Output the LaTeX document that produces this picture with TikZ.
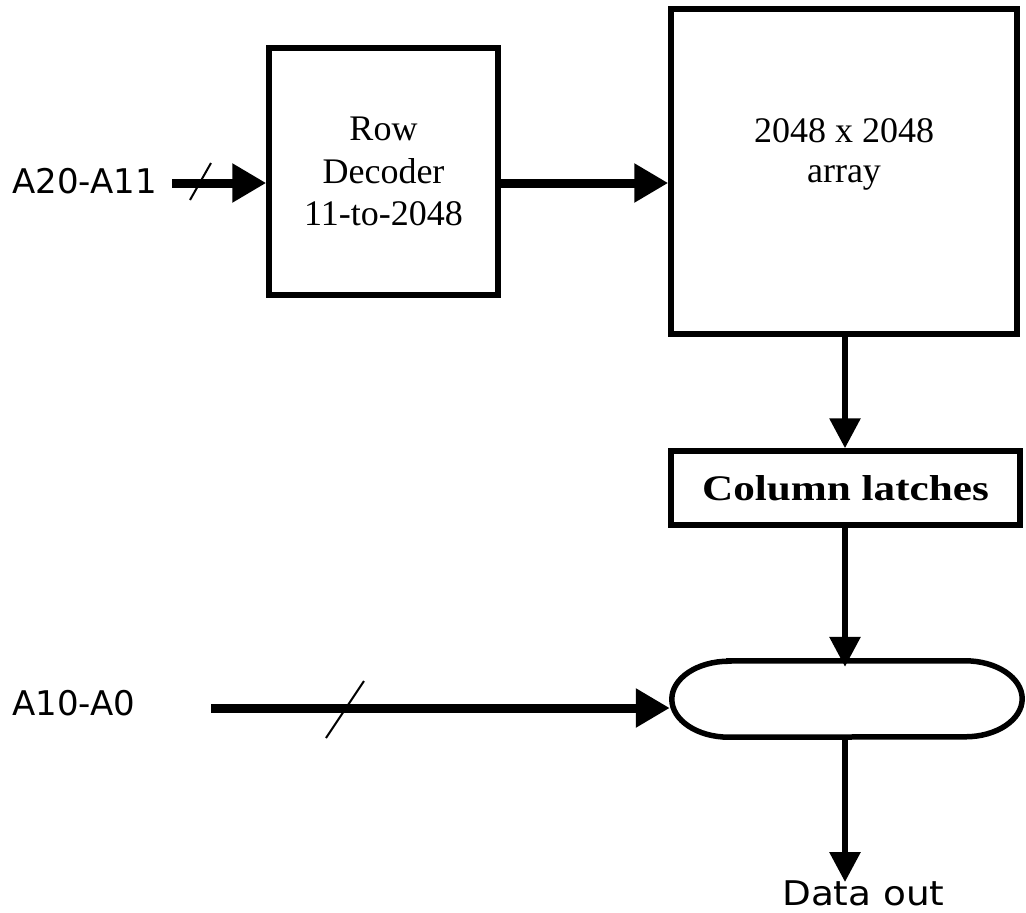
\documentclass[tikz,border=0pt]{standalone}
\usepackage{fontspec}
\setmainfont{Liberation Serif}
\newfontfamily\lblfont{DejaVu Sans}
\usetikzlibrary{arrows.meta,calc}
\begin{document}
\begin{tikzpicture}[x=1pt,y=1pt,
  blk/.style={draw,line width=5.5pt,inner sep=0pt,align=center},
  serif36/.style={font=\fontsize{36}{42.5}\selectfont},
  lbl/.style={font=\lblfont\fontsize{34}{40}\selectfont,inner sep=0pt},
  busarrow/.style={line width=9pt,-{Triangle[length=34pt,width=37pt]}},
  varrow/.style={line width=6pt,-{Triangle[length=30pt,width=30pt]}},
  slash/.style={line width=2pt}
]
\useasboundingbox (0,0) rectangle (1026,-913);

% blocks
\node[blk,serif36,minimum width=229pt,minimum height=247pt] (rowdec) at (383.5,-171.5) {Row\\Decoder\\11-to-2048};
\node[blk,minimum width=346pt,minimum height=325pt] (array) at (844,-171.5) {};
\node[serif36,align=center,font=\fontsize{36}{40}\selectfont,inner sep=0pt] (arrtxt) at (844,-154) {2048 x 2048\\array};
\node[blk,minimum width=349pt,minimum height=74pt,font=\fontsize{36}{40}\selectfont\bfseries] (latch) at (845.5,-488) {\scalebox{1.2}[1]{Column latches}};
\node[minimum width=350pt,minimum height=76pt,inner sep=0pt] (sel) at (847,-699) {};
\draw[line width=5.5pt]
  ($(sel.north west)+(57,0)$) -- ($(sel.north east)+(-57,0)$)
  arc[start angle=90,end angle=-90,x radius=57pt,y radius=38pt]
  -- ($(sel.south west)+(57,0)$)
  arc[start angle=270,end angle=90,x radius=57pt,y radius=38pt] -- cycle;

% labels
\node[lbl,anchor=base west] (a20) at (12,-193) {A20-A11};
\node[lbl,anchor=base west] (a10) at (12,-715) {A10-A0};
\node[lbl,anchor=base west] (dout) at (782,-905) {\scalebox{1.1}[1]{Data out}};

% connectors
\coordinate (a20s) at (172,-183);
\coordinate (a10s) at (211,-708);
\coordinate (vx) at (845,0);
\draw[busarrow] (a20s) -- (a20s -| rowdec.west);
\draw[busarrow] (a20s -| rowdec.east) -- (a20s -| array.west);
\draw[busarrow] (a10s) -- ($(a10s -| sel.west)+(-2,0)$);
\draw[varrow] (vx |- array.south) -- (vx |- latch.north);
\draw[varrow] (vx |- latch.south) -- ($(vx |- sel.north)+(0,-6)$);
\draw[varrow] (vx |- sel.south) -- ($(vx |- dout.north)+(0,-2)$);

% bus slashes
\coordinate (s1a) at (190,-200);
\coordinate (s1b) at (211,-163);
\coordinate (s2a) at (326,-738);
\coordinate (s2b) at (364,-681);
\draw[slash] (s1a) -- (s1b);
\draw[slash] (s2a) -- (s2b);
\end{tikzpicture}
\end{document}
